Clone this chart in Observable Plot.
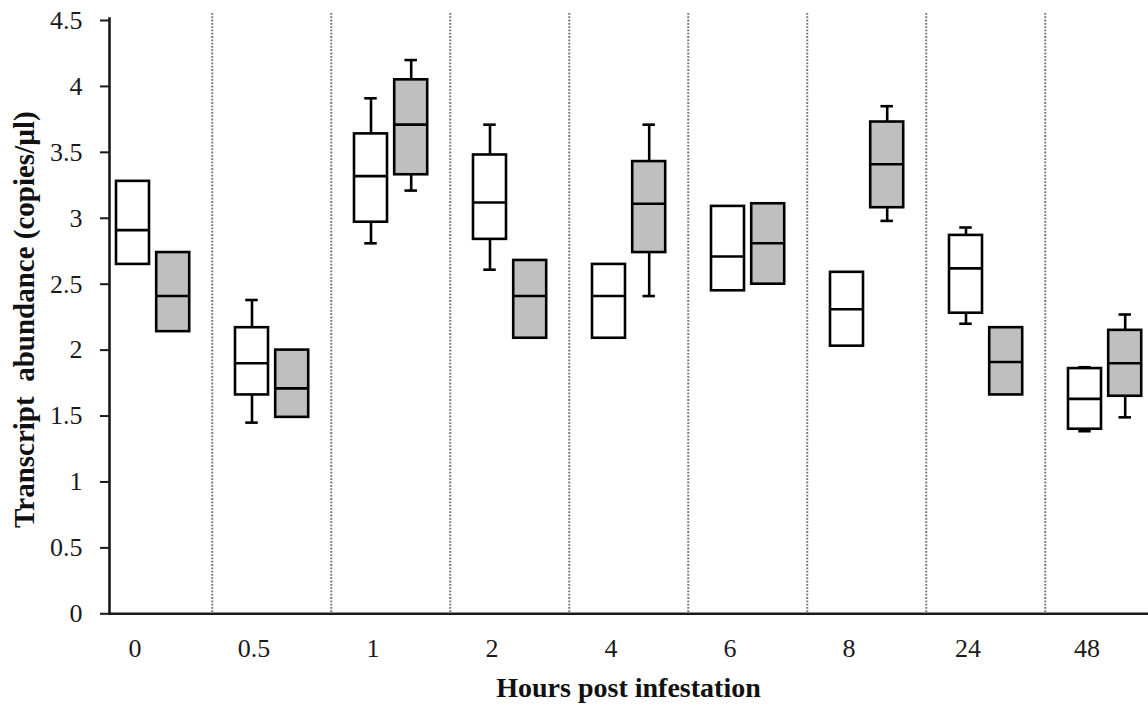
<!DOCTYPE html>
<html>
<head>
<meta charset="utf-8">
<script src="https://cdn.jsdelivr.net/npm/d3@7"></script>
<script src="https://cdn.jsdelivr.net/npm/@observablehq/plot@0.6"></script>
<style>
  html, body { margin: 0; padding: 0; background: white; overflow: hidden; }
</style>
</head>
<body>
<div id="chart"></div>
<script>
const hours = ["0", "0.5", "1", "2", "4", "6", "8", "24", "48"];
const yTicks = [0, 0.5, 1, 1.5, 2, 2.5, 3, 3.5, 4, 4.5];
const yTitle = "Transcript  abundance (copies/\u00b5l)";
const xTitle = "Hours post infestation";

// white boxes
const whiteLow  = [null, 1.45, 2.81, 2.61, null, null, null, 2.20, 1.385];
const whiteQ1   = [2.65, 1.66, 2.97, 2.84, 2.09, 2.45, 2.03, 2.28, 1.40];
const whiteMed  = [2.91, 1.90, 3.32, 3.12, 2.41, 2.71, 2.31, 2.62, 1.63];
const whiteQ3   = [3.28, 2.17, 3.64, 3.48, 2.65, 3.09, 2.59, 2.87, 1.86];
const whiteHigh = [null, 2.38, 3.91, 3.71, null, null, null, 2.93, 1.87];

// grey boxes
const greyLow  = [null, null, 3.21, null, 2.41, null, 2.98, null, 1.49];
const greyQ1   = [2.14, 1.49, 3.33, 2.09, 2.74, 2.50, 3.08, 1.66, 1.65];
const greyMed  = [2.41, 1.71, 3.71, 2.41, 3.11, 2.81, 3.41, 1.91, 1.90];
const greyQ3   = [2.74, 2.00, 4.05, 2.68, 3.43, 3.11, 3.73, 2.17, 2.15];
const greyHigh = [null, null, 4.20, null, 3.71, null, 3.85, null, 2.27];

function rows(low, q1, med, q3, high) {
  return hours.map((h, i) => ({hour: h, low: low[i], q1: q1[i], med: med[i], q3: q3[i], high: high[i]}));
}
const white = rows(whiteLow, whiteQ1, whiteMed, whiteQ3, whiteHigh);
const grey = rows(greyLow, greyQ1, greyMed, greyQ3, greyHigh);

const BW = 119.5;       // band width
const BOXW = 33.5;
const SW = 2.6;

function boxMarks(data, fill, left) {
  const right = BW - left - BOXW;
  const center = left + BOXW / 2 - BW / 2;
  const capHalf = 6.5;
  const hi = data.filter(d => d.high != null);
  const lo = data.filter(d => d.low != null);
  return [
    Plot.ruleX(hi, {x: "hour", y1: "q3", y2: "high", dx: center, stroke: "black", strokeWidth: SW}),
    Plot.ruleX(lo, {x: "hour", y1: "low", y2: "q1", dx: center, stroke: "black", strokeWidth: SW}),
    Plot.tickY(hi, {x: "hour", y: "high", insetLeft: left + BOXW / 2 - capHalf, insetRight: right + BOXW / 2 - capHalf, stroke: "black", strokeWidth: SW}),
    Plot.tickY(lo, {x: "hour", y: "low", insetLeft: left + BOXW / 2 - capHalf, insetRight: right + BOXW / 2 - capHalf, stroke: "black", strokeWidth: SW}),
    Plot.barY(data, {x: "hour", y1: "q1", y2: "q3", insetLeft: left, insetRight: right, fill, stroke: "black", strokeWidth: SW}),
    Plot.tickY(data, {x: "hour", y: "med", insetLeft: left, insetRight: right, stroke: "black", strokeWidth: SW})
  ];
}

const chart = Plot.plot({
  width: 1148,
  height: 711,
  marginTop: 13,
  marginLeft: 109,
  marginRight: 0,
  marginBottom: 97.7,
  style: {fontFamily: "'Liberation Serif', 'Times New Roman', serif", fontSize: "26px", color: "#1a1a1a", background: "white"},
  x: {type: "band", domain: hours, range: [90.5, 90.5 + BW * hours.length], padding: 0},
  y: {domain: [0, 4.5], range: [613.3, 20]},
  marks: [
    Plot.ruleX(hours.slice(1), {x: d => d, dx: -BW / 2, stroke: "#777", strokeWidth: 2, strokeDasharray: "1.8,1.5"}),
    ...boxMarks(white, "white", 23),
    ...boxMarks(grey, "#bfbfbf", 63.2),
    Plot.axisY({ticks: yTicks, tickFormat: d => String(d), tickSize: 9, tickPadding: 18, strokeWidth: 2, label: null, fontSize: 26}),
    Plot.axisX({tickSize: 0, tickPadding: 24.5, dx: -18, label: null, fontSize: 26}),
    Plot.frame({anchor: "left", insetTop: 5, strokeWidth: 2.6}),
    Plot.ruleY([0], {strokeWidth: 2.6}),
    Plot.text([yTitle], {text: d => d, frameAnchor: "left", textAnchor: "middle", rotate: -90, dx: -85, dy: 6, fontWeight: "bold", fontSize: 29, fill: "#111"}),
    Plot.text([xTitle], {text: d => d, frameAnchor: "bottom", lineAnchor: "bottom", dx: -0.5, dy: 83, fontWeight: "bold", fontSize: 28, fill: "#111"})
  ]
});
document.getElementById("chart").appendChild(chart);
</script>
</body>
</html>
